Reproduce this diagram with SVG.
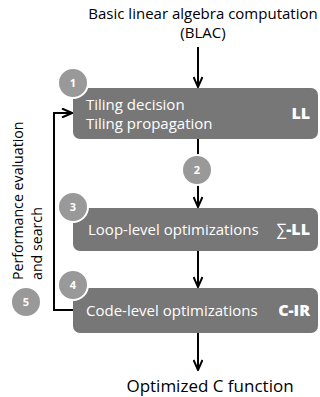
<svg xmlns="http://www.w3.org/2000/svg" width="320" height="397" viewBox="0 0 320 397">
<defs>
<style>
.t{font-family:"Open Sans","Liberation Sans",sans-serif;font-size:15px;fill:#000}
.r{font-family:"Open Sans","Liberation Sans",sans-serif;font-size:14.2px;fill:#000}
.w{font-family:"Open Sans","Liberation Sans",sans-serif;font-size:15px;fill:#fff}
.b{font-family:"Open Sans","Liberation Sans",sans-serif;font-size:16px;font-weight:800;fill:#fff}
.n{font-family:"Open Sans","Liberation Sans",sans-serif;font-size:11px;font-weight:bold;fill:#fff;text-anchor:middle}
.box{fill:#777}
.c{fill:#999;stroke:#fff;stroke-width:2}
.ln{fill:none;stroke:#000;stroke-width:2}
</style>
<marker id="ah" viewBox="0 0 12 10" refX="11" refY="5" markerWidth="12" markerHeight="10" markerUnits="userSpaceOnUse" orient="auto">
<path d="M1,0.5 L11,5 L1,9.5" fill="none" stroke="#000" stroke-width="2"/>
</marker>
</defs>
<rect width="320" height="397" fill="#fff"/>
<g id="input">
<text class="t" x="203" y="19" text-anchor="middle">Basic linear algebra computation</text>
<text class="t" x="203" y="38" text-anchor="middle">(BLAC)</text>
</g>
<g id="connectors">
<line class="ln" x1="198" y1="47" x2="198" y2="87" marker-end="url(#ah)"/>
<line class="ln" x1="198" y1="139" x2="198" y2="207" marker-end="url(#ah)"/>
<line class="ln" x1="198" y1="251" x2="198" y2="287" marker-end="url(#ah)"/>
<line class="ln" x1="198" y1="333" x2="198" y2="370" marker-end="url(#ah)"/>
<polyline class="ln" points="74,310 54,310 54,113 72,113" marker-end="url(#ah)"/>
</g>
<g id="ll">
<rect class="box" x="73" y="88" width="245" height="51" rx="7"/>
<text class="w" x="86" y="110">Tiling decision</text>
<text class="w" x="86" y="129">Tiling propagation</text>
<text class="b" x="310" y="119" text-anchor="end">LL</text>
<circle class="c" cx="73" cy="83" r="15"/>
<text class="n" x="73" y="87">1</text>
</g>
<g id="step2">
<circle class="c" cx="197" cy="170" r="15"/>
<text class="n" x="197" y="174">2</text>
</g>
<g id="sll">
<rect class="box" x="73" y="208" width="245" height="43" rx="7"/>
<text class="w" x="88" y="235">Loop-level optimizations</text>
<text class="b" x="310" y="235" text-anchor="end"><tspan font-weight="normal">∑</tspan>-LL</text>
<circle class="c" cx="73" cy="207" r="15"/>
<text class="n" x="73" y="211">3</text>
</g>
<g id="cir">
<rect class="box" x="73" y="288" width="245" height="45" rx="7"/>
<text class="w" x="86" y="316">Code-level optimizations</text>
<text class="b" x="310" y="316" text-anchor="end">C-IR</text>
<circle class="c" cx="73" cy="285" r="15"/>
<text class="n" x="73" y="289">4</text>
</g>
<g id="feedback">
<text class="r" transform="translate(23,280) rotate(-90)">Performance evaluation</text>
<text class="r" transform="translate(42,280) rotate(-90)">and search</text>
<circle class="c" cx="26" cy="302" r="15"/>
<text class="n" x="26" y="306">5</text>
</g>
<g id="output">
<text class="t" x="210" y="392" text-anchor="middle" style="font-size:17px">Optimized C function</text>
</g>
</svg>
